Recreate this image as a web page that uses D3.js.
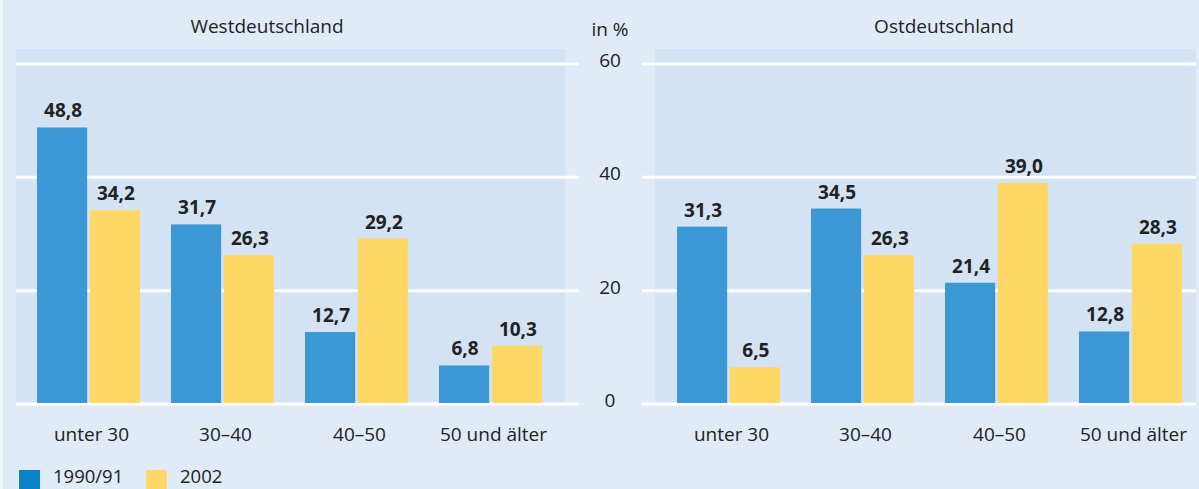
<!DOCTYPE html>
<html><head><meta charset="utf-8">
<script src="https://cdn.jsdelivr.net/npm/d3@7"></script>
<style>
html,body{margin:0;padding:0;background:#e1ebf7;}
svg{display:block;}
text{font-family:"Open Sans","Noto Sans",sans-serif;fill:#222;}
</style></head>
<body>
<svg id="chart" width="1199" height="489"></svg>
<script>
const categories = ["unter 30", "30–40", "40–50", "50 und älter"];
const seriesNames = ["1990/91", "2002"];
const westValues1990 = [48.8, 31.7, 12.7, 6.8];
const westValues2002 = [34.2, 26.3, 29.2, 10.3];
const eastValues1990 = [31.3, 34.5, 21.4, 12.8];
const eastValues2002 = [6.5, 26.3, 39.0, 28.3];
const yTicks = [0, 20, 40, 60];
const panelTitles = ["Westdeutschland", "Ostdeutschland"];
const unitLabel = "in %";

const svg = d3.select("#chart");
const W = 1199, H = 489;
svg.append("rect").attr("width", W).attr("height", H).attr("fill", "#e1ebf7");
svg.append("rect").attr("width", 3).attr("height", H).attr("fill", "#f0f5fb");

const y = d3.scaleLinear().domain([0, 60]).range([404, 64]);
const barColors = ["#3b98d4", "#ffd766"];
const legendColors = ["#0a82c8", "#ffd766"];
const fmt = v => d3.format(".1f")(v).replace(".", ",");
const FS = 19;

const panels = [
  {title: panelTitles[0], tx: 267, x0: 16, x1: 565, gx0: 16, gx1: 579, first: 37, data: [westValues1990, westValues2002]},
  {title: panelTitles[1], tx: 944, x0: 655, x1: 1196, gx0: 642, gx1: 1196, first: 677, data: [eastValues1990, eastValues2002]}
];

panels.forEach(p => {
  const g = svg.append("g");
  g.append("rect").attr("x", p.x0).attr("y", 49).attr("width", p.x1 - p.x0).attr("height", 404 - 49).attr("fill", "#d4e3f3");
  g.selectAll("line.grid").data(yTicks).join("line")
    .attr("x1", p.gx0).attr("x2", p.gx1)
    .attr("y1", d => y(d)).attr("y2", d => y(d))
    .attr("stroke", "#ffffff").attr("stroke-width", 3);
  const x = d3.scaleBand().domain(categories)
    .range([p.first - 21, p.first - 21 + 134 * 4]).paddingInner(0).paddingOuter(0);
  const xs = d3.scaleBand().domain([0, 1]).range([21, 21 + 103]).paddingInner(0.05);
  categories.forEach((c, ci) => {
    [0, 1].forEach(si => {
      const v = p.data[si][ci];
      const bx = x(c) + xs(si);
      g.append("rect").attr("x", bx).attr("y", y(v)).attr("width", xs.bandwidth())
        .attr("height", y(0) - 1 - y(v)).attr("fill", barColors[si]);
      g.append("text").attr("x", bx + xs.bandwidth() / 2 + 1).attr("y", y(v) - 10)
        .attr("text-anchor", "middle").attr("font-size", FS).attr("font-weight", 700)
        .text(fmt(v));
    });
    g.append("text").attr("x", x(c) + 21 + 103 / 2 + 3).attr("y", 441)
      .attr("text-anchor", "middle").attr("font-size", FS).text(c);
  });
  g.append("text").attr("x", p.tx).attr("y", 33)
    .attr("text-anchor", "middle").attr("font-size", FS).text(p.title);
});

// y axis labels in the middle
svg.selectAll("text.ytick").data(yTicks).join("text")
  .attr("x", 610).attr("y", d => y(d) + 3)
  .attr("text-anchor", "middle").attr("font-size", FS).text(d => d);
svg.append("text").attr("x", 610).attr("y", 36).attr("text-anchor", "middle").attr("font-size", FS).text(unitLabel);

// legend
const leg = svg.append("g");
const legX = [19, 146];
seriesNames.forEach((s, i) => {
  leg.append("rect").attr("x", legX[i]).attr("y", 470).attr("width", 21).attr("height", 19).attr("fill", legendColors[i]);
  leg.append("text").attr("x", legX[i] + 34).attr("y", 483).attr("font-size", 18.5).text(s);
});
</script>
</body></html>
